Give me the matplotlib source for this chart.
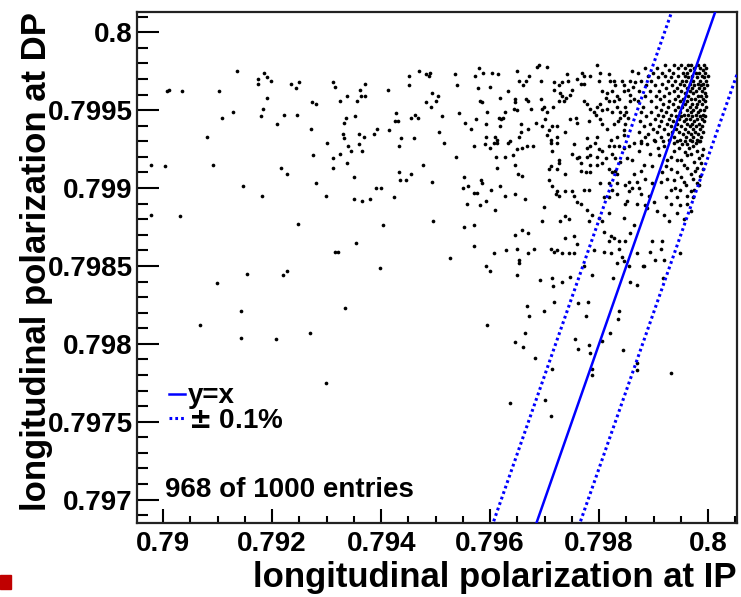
import numpy as np
import matplotlib
matplotlib.use("Agg")
import matplotlib.pyplot as plt
from matplotlib.ticker import MultipleLocator
from matplotlib.patches import Rectangle

plt.rcParams['font.family'] = ['Liberation Sans', 'DejaVu Sans']
plt.rcParams['font.weight'] = 'bold'

# points: (polarization at IP, polarization at DP)
left_pts = [
    (0.79135, 0.79975), (0.79174, 0.79970), (0.79174, 0.79967), (0.79185, 0.79974),
    (0.79190, 0.79971), (0.79197, 0.79969), (0.79235, 0.79967), (0.79249, 0.79968),
    (0.79244, 0.79964), (0.79311, 0.79968), (0.79316, 0.79965), (0.79007, 0.79962),
    (0.79011, 0.79963), (0.79035, 0.79962), (0.79103, 0.79962), (0.79191, 0.79958),
    (0.79273, 0.79955), (0.79281, 0.79954), (0.79128, 0.79949), (0.79108, 0.79945),
    (0.79184, 0.79951), (0.79179, 0.79946), (0.79221, 0.79947), (0.79245, 0.79947),
    (0.79209, 0.79941), (0.79271, 0.79938), (0.79081, 0.79933), (0.79300, 0.79929),
    (0.79275, 0.79921), (0.79311, 0.79919), (0.79311, 0.79913), (0.78978, 0.79915),
    (0.79004, 0.79914), (0.79092, 0.79915), (0.79217, 0.79913), (0.79228, 0.79909),
    (0.79280, 0.79903), (0.79146, 0.79901), (0.79182, 0.79895), (0.79298, 0.79895),
    (0.78978, 0.79883), (0.79031, 0.79882), (0.79248, 0.79877), (0.79316, 0.79859),
    (0.79154, 0.79845), (0.79220, 0.79844), (0.79228, 0.79847), (0.79099, 0.79839),
    (0.79143, 0.79821), (0.79068, 0.79812), (0.79142, 0.79804), (0.79207, 0.79803),
    (0.79269, 0.79807), (0.79299, 0.79775),
]

low_pts = [
    (0.79398, 0.79849), (0.79333, 0.79823), (0.79593, 0.79850), (0.79599, 0.79847),
    (0.79653, 0.79852), (0.79650, 0.79844), (0.79667, 0.79824), (0.79671, 0.79818),
    (0.79595, 0.79812), (0.79664, 0.79807), (0.79645, 0.79801), (0.79660, 0.79798),
    (0.79683, 0.79791), (0.79636, 0.79762), (0.79699, 0.79821), (0.79717, 0.79827),
    (0.79713, 0.79784), (0.79701, 0.79764), (0.79712, 0.79754), (0.79762, 0.79826),
    (0.79779, 0.79827), (0.79776, 0.79818), (0.79755, 0.79803), (0.79761, 0.79797),
    (0.79782, 0.79799), (0.79783, 0.79794), (0.79787, 0.79784), (0.79787, 0.79780),
    (0.79806, 0.79802), (0.79820, 0.79807), (0.79834, 0.79816), (0.79837, 0.79821),
    (0.79844, 0.79796), (0.79869, 0.79788), (0.79869, 0.79783), (0.79932, 0.79781),
    (0.79918, 0.79842), (0.79857, 0.79840), (0.79869, 0.79838), (0.79826, 0.79842),
    (0.79747, 0.79843), (0.79787, 0.79844), (0.79713, 0.79842), (0.79715, 0.79837),
    (0.79732, 0.79840), (0.79692, 0.79841), (0.79881, 0.79850), (0.79869, 0.79858),
    (0.79833, 0.79852), (0.79854, 0.79850), (0.79772, 0.79850),
]

mid_pts = [
    (0.79469, 0.79975), (0.79452, 0.79972), (0.79483, 0.79973), (0.79489, 0.79974),
    (0.79487, 0.79972), (0.79535, 0.79973), (0.79579, 0.79977), (0.79573, 0.79972),
    (0.79587, 0.79974), (0.79604, 0.79974), (0.79615, 0.79973), (0.79650, 0.79975),
    (0.79672, 0.79972), (0.79666, 0.79969), (0.79653, 0.79969), (0.79661, 0.79966),
    (0.79686, 0.79978), (0.79370, 0.79967), (0.79362, 0.79963), (0.79363, 0.79959),
    (0.79370, 0.79959), (0.79338, 0.79959), (0.79325, 0.79956), (0.79356, 0.79956),
    (0.79412, 0.79963), (0.79451, 0.79966), (0.79540, 0.79966), (0.79577, 0.79964),
    (0.79600, 0.79965), (0.79633, 0.79962), (0.79494, 0.79961), (0.79504, 0.79959),
    (0.79500, 0.79956), (0.79483, 0.79955), (0.79491, 0.79952), (0.79581, 0.79956),
    (0.79585, 0.79955), (0.79619, 0.79958), (0.79645, 0.79957), (0.79646, 0.79955),
    (0.79643, 0.79951), (0.79665, 0.79957), (0.79669, 0.79956), (0.79675, 0.79951),
    (0.79650, 0.79950), (0.79595, 0.79949), (0.79628, 0.79949), (0.79616, 0.79945),
    (0.79623, 0.79945), (0.79620, 0.79944), (0.79542, 0.79948), (0.79511, 0.79946),
    (0.79427, 0.79948), (0.79426, 0.79943), (0.79431, 0.79943), (0.79454, 0.79945),
    (0.79463, 0.79947), (0.79468, 0.79945), (0.79352, 0.79946), (0.79336, 0.79945),
    (0.79332, 0.79942), (0.79574, 0.79944), (0.79554, 0.79942), (0.79593, 0.79941),
    (0.79618, 0.79940), (0.79657, 0.79941), (0.79684, 0.79942), (0.79669, 0.79938),
    (0.79393, 0.79938), (0.79387, 0.79935), (0.79415, 0.79937), (0.79564, 0.79938),
    (0.79506, 0.79936), (0.79330, 0.79935), (0.79332, 0.79932), (0.79359, 0.79935),
    (0.79368, 0.79933), (0.79656, 0.79936), (0.79653, 0.79933), (0.79593, 0.79933),
    (0.79591, 0.79928), (0.79599, 0.79926), (0.79609, 0.79933), (0.79613, 0.79931),
    (0.79607, 0.79929), (0.79613, 0.79929), (0.79633, 0.79929), (0.79636, 0.79930),
    (0.79436, 0.79932), (0.79461, 0.79932), (0.79515, 0.79929), (0.79339, 0.79927),
    (0.79345, 0.79924), (0.79360, 0.79928), (0.79364, 0.79924), (0.79432, 0.79927),
    (0.79570, 0.79927), (0.79650, 0.79925), (0.79659, 0.79926), (0.79668, 0.79927),
    (0.79678, 0.79927), (0.79325, 0.79922), (0.79537, 0.79920), (0.79610, 0.79920),
    (0.79627, 0.79920), (0.79642, 0.79921), (0.79338, 0.79916), (0.79477, 0.79915),
    (0.79613, 0.79913), (0.79645, 0.79915), (0.79432, 0.79910), (0.79435, 0.79905),
    (0.79446, 0.79905), (0.79454, 0.79909), (0.79350, 0.79907), (0.79552, 0.79907),
    (0.79652, 0.79909), (0.79659, 0.79908), (0.79494, 0.79904), (0.79584, 0.79905),
    (0.79585, 0.79903), (0.79550, 0.79900), (0.79559, 0.79901), (0.79602, 0.79899),
    (0.79618, 0.79901), (0.79390, 0.79900), (0.79400, 0.79900), (0.79571, 0.79897),
    (0.79576, 0.79897), (0.79627, 0.79895), (0.79645, 0.79896), (0.79350, 0.79893),
    (0.79364, 0.79892), (0.79380, 0.79893), (0.79424, 0.79894), (0.79593, 0.79892),
    (0.79664, 0.79893), (0.79557, 0.79890), (0.79582, 0.79889), (0.79609, 0.79886),
    (0.79495, 0.79879), (0.79404, 0.79876), (0.79552, 0.79875), (0.79570, 0.79876),
    (0.79659, 0.79873), (0.79645, 0.79870), (0.79670, 0.79871), (0.79354, 0.79865),
    (0.79571, 0.79863), (0.79607, 0.79858), (0.79629, 0.79860), (0.79650, 0.79861),
    (0.79669, 0.79858), (0.79680, 0.79861), (0.79321, 0.79859), (0.79526, 0.79855),
    (0.79653, 0.79854),
]

right_top_pts = [
    (0.79689, 0.79979), (0.79705, 0.79978), (0.79796, 0.79979), (0.79694, 0.79969),
    (0.79718, 0.79968), (0.79732, 0.79968), (0.79726, 0.79966), (0.79717, 0.79963),
    (0.79729, 0.79961), (0.79741, 0.79973), (0.79743, 0.79969), (0.79751, 0.79963),
    (0.79747, 0.79960), (0.79740, 0.79958), (0.79732, 0.79959), (0.79726, 0.79956),
    (0.79736, 0.79956), (0.79760, 0.79970), (0.79769, 0.79974), (0.79772, 0.79972),
    (0.79772, 0.79967), (0.79766, 0.79967), (0.79784, 0.79972), (0.79802, 0.79974),
    (0.79800, 0.79969), (0.79818, 0.79973), (0.79820, 0.79969), (0.79828, 0.79969),
    (0.79830, 0.79966), (0.79824, 0.79962), (0.79833, 0.79959), (0.79842, 0.79969),
    (0.79846, 0.79966), (0.79856, 0.79969), (0.79806, 0.79962), (0.79815, 0.79961),
    (0.79812, 0.79958), (0.79818, 0.79956), (0.79827, 0.79956), (0.79836, 0.79957),
    (0.79846, 0.79962), (0.79853, 0.79963), (0.79857, 0.79960), (0.79862, 0.79965),
    (0.79865, 0.79968), (0.79861, 0.79975), (0.79693, 0.79957), (0.79699, 0.79952),
    (0.79695, 0.79951), (0.79716, 0.79952), (0.79705, 0.79949), (0.79772, 0.79956),
    (0.79778, 0.79954), (0.79784, 0.79951), (0.79790, 0.79949), (0.79796, 0.79952),
    (0.79801, 0.79954), (0.79806, 0.79950), (0.79794, 0.79947), (0.79815, 0.79951),
    (0.79824, 0.79949), (0.79833, 0.79952), (0.79839, 0.79949), (0.79848, 0.79952),
    (0.79850, 0.79949), (0.79856, 0.79956), (0.79864, 0.79957), (0.79700, 0.79944),
    (0.79695, 0.79940), (0.79714, 0.79940), (0.79708, 0.79937), (0.79723, 0.79940),
    (0.79738, 0.79936), (0.79747, 0.79944), (0.79757, 0.79945), (0.79760, 0.79942),
    (0.79781, 0.79943), (0.79802, 0.79944), (0.79806, 0.79941), (0.79815, 0.79938),
    (0.79827, 0.79941), (0.79834, 0.79943), (0.79839, 0.79945), (0.79846, 0.79947),
    (0.79848, 0.79941), (0.79845, 0.79937), (0.79853, 0.79945), (0.79705, 0.79934),
    (0.79711, 0.79931), (0.79723, 0.79933), (0.79778, 0.79932), (0.79796, 0.79933),
    (0.79821, 0.79931), (0.79832, 0.79933), (0.79845, 0.79934),
]

right_mid_pts = [
    (0.79711, 0.79929), (0.79723, 0.79929), (0.79754, 0.79928), (0.79778, 0.79926),
    (0.79784, 0.79927), (0.79793, 0.79929), (0.79800, 0.79925), (0.79818, 0.79927),
    (0.79827, 0.79927), (0.79836, 0.79927), (0.79845, 0.79926), (0.79855, 0.79927),
    (0.79864, 0.79929), (0.79714, 0.79924), (0.79751, 0.79922), (0.79763, 0.79920),
    (0.79760, 0.79919), (0.79778, 0.79920), (0.79784, 0.79921), (0.79796, 0.79920),
    (0.79806, 0.79924), (0.79812, 0.79919), (0.79824, 0.79922), (0.79830, 0.79919),
    (0.79726, 0.79918), (0.79726, 0.79916), (0.79766, 0.79916), (0.79784, 0.79915),
    (0.79796, 0.79915), (0.79806, 0.79916), (0.79839, 0.79917), (0.79851, 0.79919),
    (0.79860, 0.79918), (0.79711, 0.79914), (0.79708, 0.79912), (0.79723, 0.79912),
    (0.79738, 0.79909), (0.79766, 0.79911), (0.79775, 0.79910), (0.79784, 0.79910),
    (0.79818, 0.79912), (0.79824, 0.79910), (0.79830, 0.79911), (0.79833, 0.79909),
    (0.79802, 0.79903), (0.79818, 0.79903), (0.79833, 0.79903), (0.79855, 0.79904),
    (0.79864, 0.79909), (0.79708, 0.79905), (0.79714, 0.79901), (0.79723, 0.79898),
    (0.79726, 0.79895), (0.79720, 0.79896), (0.79738, 0.79898), (0.79751, 0.79898),
    (0.79772, 0.79899), (0.79781, 0.79899), (0.79754, 0.79895), (0.79760, 0.79891),
    (0.79766, 0.79890), (0.79809, 0.79894), (0.79818, 0.79894), (0.79824, 0.79899),
    (0.79833, 0.79896), (0.79848, 0.79902), (0.79855, 0.79898), (0.79861, 0.79900),
    (0.79851, 0.79892), (0.79848, 0.79890), (0.79699, 0.79888), (0.79695, 0.79879),
    (0.79729, 0.79879), (0.79738, 0.79882), (0.79744, 0.79880), (0.79778, 0.79886),
    (0.79781, 0.79879), (0.79787, 0.79883), (0.79800, 0.79881), (0.79806, 0.79879),
    (0.79818, 0.79884), (0.79845, 0.79881), (0.79864, 0.79876), (0.79809, 0.79872),
    (0.79821, 0.79869), (0.79827, 0.79868), (0.79818, 0.79866), (0.79836, 0.79866),
    (0.79848, 0.79866), (0.79857, 0.79871), (0.79754, 0.79869), (0.79738, 0.79868),
    (0.79711, 0.79861), (0.79717, 0.79859), (0.79723, 0.79860), (0.79732, 0.79858),
    (0.79744, 0.79858), (0.79754, 0.79858), (0.79760, 0.79864), (0.79790, 0.79860),
    (0.79809, 0.79859), (0.79821, 0.79858), (0.79836, 0.79861), (0.79842, 0.79856),
    (0.79845, 0.79853),
]

far_right_pts = [
    (0.79876, 0.79929), (0.79888, 0.79928), (0.79903, 0.79930), (0.79919, 0.79927),
    (0.79937, 0.79929), (0.79946, 0.79926), (0.79961, 0.79928), (0.79977, 0.79929),
    (0.79986, 0.79930), (0.79873, 0.79924), (0.79894, 0.79922), (0.79910, 0.79921),
    (0.79931, 0.79920), (0.79943, 0.79918), (0.79961, 0.79921), (0.79980, 0.79924),
    (0.79983, 0.79919), (0.79882, 0.79915), (0.79897, 0.79914), (0.79876, 0.79911),
    (0.79922, 0.79914), (0.79931, 0.79912), (0.79943, 0.79910), (0.79956, 0.79915),
    (0.79968, 0.79909), (0.79980, 0.79913), (0.79983, 0.79902), (0.79870, 0.79904),
    (0.79885, 0.79906), (0.79873, 0.79900), (0.79897, 0.79903), (0.79913, 0.79904),
    (0.79925, 0.79906), (0.79931, 0.79899), (0.79940, 0.79900), (0.79949, 0.79899),
    (0.79956, 0.79904), (0.79968, 0.79898), (0.79980, 0.79903), (0.79876, 0.79896),
    (0.79891, 0.79895), (0.79870, 0.79890), (0.79885, 0.79889), (0.79900, 0.79891),
    (0.79922, 0.79894), (0.79931, 0.79890), (0.79943, 0.79894), (0.79949, 0.79889),
    (0.79961, 0.79890), (0.79973, 0.79894), (0.79888, 0.79887), (0.79906, 0.79885),
    (0.79919, 0.79883), (0.79928, 0.79879), (0.79943, 0.79884), (0.79956, 0.79880),
    (0.79968, 0.79885), (0.79897, 0.79866), (0.79916, 0.79866), (0.79894, 0.79859),
    (0.79913, 0.79861), (0.79903, 0.79854), (0.79919, 0.79854), (0.79882, 0.79850),
    (0.79949, 0.79858),
]

# lower edge of the dense core
core_tail_pts = [
    (0.79952, 0.79928), (0.79965, 0.79926), (0.79972, 0.79927), (0.79990, 0.79925),
    (0.79957, 0.79923), (0.79969, 0.79922), (0.79988, 0.79921), (0.79951, 0.79918),
    (0.79974, 0.79917), (0.79987, 0.79916), (0.79962, 0.79913), (0.79976, 0.79911),
    (0.79950, 0.79907), (0.79972, 0.79906), (0.79985, 0.79908), (0.79959, 0.79902),
    (0.79975, 0.79899), (0.79990, 0.79912), (0.79937, 0.79924), (0.79925, 0.79918),
    (0.79908, 0.79926), (0.79915, 0.79910), (0.79938, 0.79905), (0.79962, 0.79895),
]

# dense core near x = y, listed row by row: (DP value, IP values)
core_rows = [
    (0.79979, [0.79921, 0.79938, 0.79950, 0.79963, 0.79969, 0.79981, 0.79993]),
    (0.79977, [0.79884, 0.79907, 0.79944, 0.79958, 0.79975, 0.79986, 0.79997]),
    (0.79976, [0.79929, 0.79966, 0.79990]),
    (0.79974, [0.79871, 0.79899, 0.79915, 0.79936, 0.79953, 0.79961, 0.79978, 0.79983, 0.79994]),
    (0.79972, [0.79889, 0.79921, 0.79945, 0.79957, 0.79970, 0.79988, 0.79999]),
    (0.79971, [0.79908, 0.79932, 0.79964, 0.79979, 0.79992]),
    (0.79969, [0.79877, 0.79896, 0.79926, 0.79940, 0.79952, 0.79960, 0.79973, 0.79985, 0.79996]),
    (0.79967, [0.79915, 0.79948, 0.79967, 0.79981, 0.79991]),
    (0.79966, [0.79886, 0.79903, 0.79934, 0.79956, 0.79975, 0.79987, 0.79998]),
    (0.79964, [0.79922, 0.79943, 0.79962, 0.79970, 0.79983, 0.79993]),
    (0.79962, [0.79874, 0.79893, 0.79910, 0.79937, 0.79951, 0.79966, 0.79978, 0.79989]),
    (0.79961, [0.79929, 0.79958, 0.79973, 0.79995]),
    (0.79959, [0.79884, 0.79904, 0.79919, 0.79945, 0.79964, 0.79981, 0.79987, 0.79997]),
    (0.79957, [0.79912, 0.79940, 0.79954, 0.79969, 0.79976, 0.79991]),
    (0.79956, [0.79872, 0.79896, 0.79928, 0.79949, 0.79962, 0.79984, 0.79994]),
    (0.79954, [0.79918, 0.79935, 0.79958, 0.79971, 0.79980, 0.79989]),
    (0.79952, [0.79881, 0.79905, 0.79927, 0.79944, 0.79952, 0.79966, 0.79977, 0.79996]),
    (0.79950, [0.79914, 0.79939, 0.79961, 0.79973, 0.79986, 0.79992]),
    (0.79949, [0.79877, 0.79896, 0.79923, 0.79948, 0.79969, 0.79982]),
    (0.79947, [0.79908, 0.79932, 0.79955, 0.79964, 0.79978, 0.79990]),
    (0.79946, [0.79886, 0.79918, 0.79941, 0.79951, 0.79971, 0.79985, 0.79995]),
    (0.79944, [0.79903, 0.79929, 0.79946, 0.79960, 0.79967, 0.79980, 0.79988]),
    (0.79943, [0.79875, 0.79914, 0.79936, 0.79955, 0.79975, 0.79993]),
    (0.79941, [0.79893, 0.79924, 0.79943, 0.79962, 0.79971, 0.79983]),
    (0.79940, [0.79882, 0.79909, 0.79931, 0.79950, 0.79966, 0.79978, 0.79989]),
    (0.79938, [0.79898, 0.79919, 0.79941, 0.79958, 0.79972, 0.79985]),
    (0.79936, [0.79873, 0.79907, 0.79933, 0.79947, 0.79963, 0.79976, 0.79991]),
    (0.79935, [0.79889, 0.79926, 0.79953, 0.79969, 0.79982]),
    (0.79933, [0.79884, 0.79913, 0.79938, 0.79960, 0.79973, 0.79987]),
    (0.79931, [0.79900, 0.79929, 0.79948, 0.79966, 0.79979]),
    (0.79930, [0.79877, 0.79918, 0.79942, 0.79957, 0.79970, 0.79984]),
]

x_ticks = [0.79, 0.792, 0.794, 0.796, 0.798, 0.8]
x_tick_labels = ["0.79", "0.792", "0.794", "0.796", "0.798", "0.8"]
y_ticks = [0.797, 0.7975, 0.798, 0.7985, 0.799, 0.7995, 0.8]
y_tick_labels = ["0.797", "0.7975", "0.798", "0.7985", "0.799", "0.7995", "0.8"]
x_lim = (0.78952, 0.80053)
y_lim = (0.79685, 0.80013)
tolerance = 0.001  # +- 0.1 %
entries_text = "968 of 1000 entries"

pts = (left_pts + low_pts + mid_pts + right_top_pts + right_mid_pts
       + far_right_pts + core_tail_pts)
for yv, xr in core_rows:
    pts += [(xv, yv) for xv in xr]
pts = np.array(pts)

fig = plt.figure(figsize=(7.41, 5.97), dpi=100)
ax = fig.add_axes([137 / 741, 74 / 597, 600 / 741, 511 / 597])

ax.scatter(pts[:, 0], pts[:, 1], s=7, c='black', linewidths=0, zorder=2)

line_x = np.array(x_lim)
ax.plot(line_x, line_x, color='#0000ff', lw=1.8, label='y=x', zorder=3)
ax.plot(line_x, line_x * (1 + tolerance), color='#0000ff', lw=2.2,
        ls=(0, (0.9, 1.0)), label='$\\pm$ 0.1%', zorder=3)
ax.plot(line_x, line_x * (1 - tolerance), color='#0000ff', lw=2.2,
        ls=(0, (0.9, 1.0)), zorder=3)

ax.set_xlim(*x_lim)
ax.set_ylim(*y_lim)
ax.set_xticks(x_ticks)
ax.set_xticklabels(x_tick_labels)
ax.set_yticks(y_ticks)
ax.set_yticklabels(y_tick_labels)
ax.xaxis.set_minor_locator(MultipleLocator(0.0005))
ax.yaxis.set_minor_locator(MultipleLocator(0.0001))
ax.tick_params(axis='both', which='both', direction='in', width=1.5,
               labelsize=20, top=False, right=False)
ax.tick_params(axis='x', which='major', length=10, pad=6)
ax.tick_params(axis='x', which='minor', length=5)
ax.tick_params(axis='y', which='major', length=16, pad=3)
ax.tick_params(axis='y', which='minor', length=8)
for s in ax.spines.values():
    s.set_linewidth(1.6)
    s.set_color('#222222')

ax.set_xlabel("longitudinal polarization at IP", fontsize=25,
              fontweight='bold', loc='right')
ax.xaxis.set_label_coords(1.0, -0.075)
ax.set_ylabel("longitudinal polarization at DP", fontsize=25,
              fontweight='bold', loc='top')
ax.yaxis.set_label_coords(-0.14, 1.0)

ax.legend(loc='center left', bbox_to_anchor=(0.053, 0.224), frameon=False,
          fontsize=20, handlelength=0.6, handletextpad=0.1, labelspacing=-0.05,
          borderpad=0, borderaxespad=0)
ax.text(0.047, 0.065, entries_text, transform=ax.transAxes, fontsize=20,
        va='center', ha='left')

fig.patches.append(Rectangle((0, 8 / 597), 11 / 741, 14 / 597,
                             transform=fig.transFigure, color='#c00000'))

fig.savefig("out.png", dpi=100)
